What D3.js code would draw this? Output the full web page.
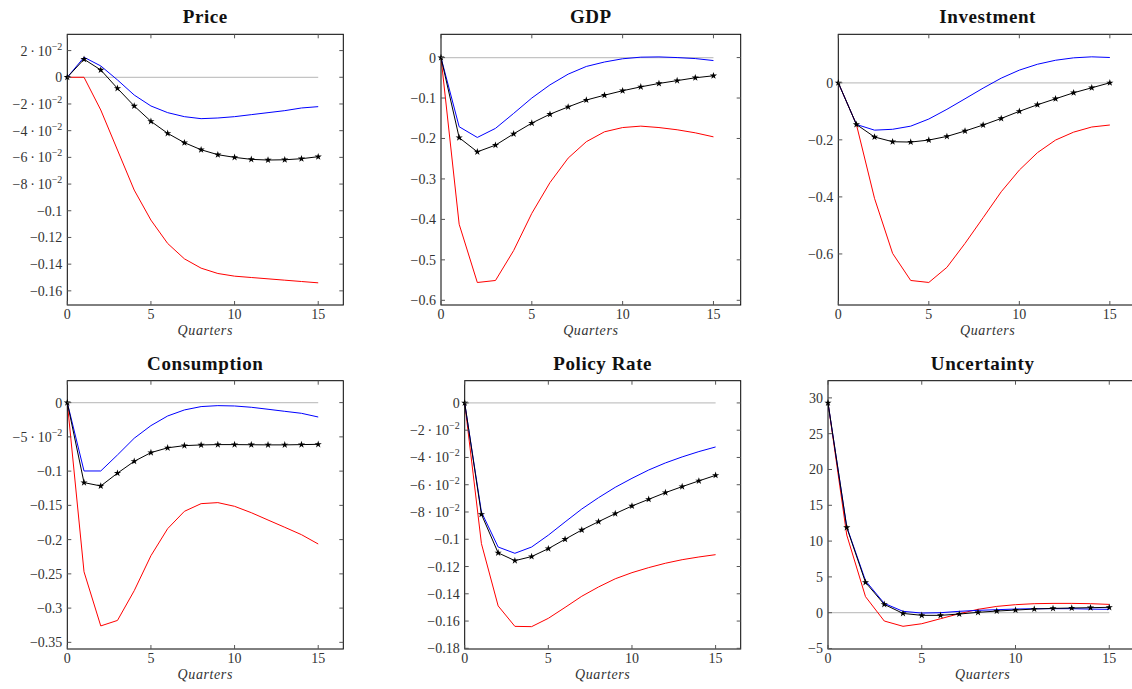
<!DOCTYPE html>
<html>
<head>
<meta charset="utf-8">
<script src="https://cdn.jsdelivr.net/npm/d3@7"></script>
<style>
  body { margin: 0; background: #fff; }
  svg { display: block; }
</style>
</head>
<body>
<svg id="chart" width="1132" height="689"></svg>
<script>
// quarters after the shock
const quarters = [0, 1, 2, 3, 4, 5, 6, 7, 8, 9, 10, 11, 12, 13, 14, 15];

// Price
const priceLow  = [0, 0, -0.0245, -0.0545, -0.0845, -0.107, -0.1245, -0.136, -0.143, -0.147, -0.149, -0.150, -0.151, -0.152, -0.153, -0.154];
const priceHigh = [0, 0.015, 0.0085, -0.002, -0.0133, -0.0215, -0.0265, -0.0295, -0.031, -0.0305, -0.0295, -0.028, -0.0265, -0.025, -0.023, -0.022];
const priceMed  = [0, 0.0135, 0.0055, -0.0083, -0.0215, -0.033, -0.042, -0.049, -0.0543, -0.058, -0.060, -0.0615, -0.062, -0.0618, -0.061, -0.0595];

// GDP
const gdpLow  = [0, -0.412, -0.556, -0.551, -0.477, -0.385, -0.309, -0.2485, -0.208, -0.1835, -0.173, -0.1695, -0.173, -0.1785, -0.186, -0.196];
const gdpHigh = [0, -0.171, -0.1975, -0.175, -0.138, -0.100, -0.0675, -0.041, -0.022, -0.011, -0.003, 0.001, 0.0016, 0, -0.0025, -0.0074];
const gdpMed  = [0, -0.198, -0.233, -0.2165, -0.1885, -0.162, -0.140, -0.122, -0.105, -0.093, -0.082, -0.0724, -0.064, -0.057, -0.050, -0.045];

// Investment
const invLow  = [0, -0.146, -0.405, -0.598, -0.693, -0.700, -0.647, -0.563, -0.473, -0.382, -0.306, -0.245, -0.2008, -0.173, -0.155, -0.148];
const invHigh = [0, -0.146, -0.166, -0.163, -0.152, -0.127, -0.093, -0.056, -0.0187, 0.0163, 0.0444, 0.065, 0.079, 0.0875, 0.091, 0.0887];
const invMed  = [0, -0.146, -0.19, -0.2066, -0.2078, -0.2008, -0.188, -0.169, -0.148, -0.125, -0.100, -0.077, -0.056, -0.035, -0.0175, 0];

// Consumption
const consLow  = [0, -0.247, -0.326, -0.318, -0.2746, -0.2235, -0.184, -0.1587, -0.1475, -0.146, -0.1514, -0.1607, -0.1714, -0.182, -0.1928, -0.2064];
const consHigh = [0, -0.0998, -0.0998, -0.0764, -0.052, -0.0336, -0.0195, -0.0107, -0.0058, -0.0044, -0.0049, -0.0068, -0.0097, -0.0127, -0.0156, -0.021];
const consMed  = [0, -0.1168, -0.1217, -0.103, -0.0857, -0.073, -0.066, -0.0628, -0.0618, -0.0613, -0.0613, -0.0615, -0.0617, -0.0617, -0.0613, -0.0609];

// Policy rate
const rateLow  = [0, -0.1032, -0.1489, -0.1639, -0.1641, -0.158, -0.150, -0.1418, -0.135, -0.129, -0.1245, -0.1208, -0.1176, -0.115, -0.113, -0.1113];
const rateHigh = [0, -0.080, -0.1057, -0.1103, -0.1057, -0.097, -0.0873, -0.0778, -0.0695, -0.0619, -0.0553, -0.0492, -0.044, -0.0396, -0.0357, -0.0323];
const rateMed  = [0, -0.0817, -0.110, -0.1157, -0.1127, -0.1069, -0.100, -0.0932, -0.0871, -0.0812, -0.0756, -0.0707, -0.0658, -0.0614, -0.0572, -0.0531];

// Uncertainty
const uncLow  = [29.3, 10.85, 2.24, -1.16, -1.9, -1.54, -0.84, -0.14, 0.47, 0.88, 1.12, 1.26, 1.3, 1.3, 1.26, 1.16];
const uncHigh = [29.3, 12.0, 4.47, 1.3, 0.19, -0.05, 0, 0.19, 0.33, 0.42, 0.51, 0.56, 0.56, 0.56, 0.5, 0.47];
const uncMed  = [29.3, 11.9, 4.24, 1.16, -0.1, -0.37, -0.37, -0.19, 0.05, 0.23, 0.37, 0.51, 0.6, 0.65, 0.7, 0.75];

// tick values
const xTicks = [0, 5, 10, 15];
const priceTicks = [0.02, 0, -0.02, -0.04, -0.06, -0.08, -0.1, -0.12, -0.14, -0.16];
const gdpTicks = [0, -0.1, -0.2, -0.3, -0.4, -0.5, -0.6];
const invTicks = [0, -0.2, -0.4, -0.6];
const consTicks = [0, -0.05, -0.1, -0.15, -0.2, -0.25, -0.3, -0.35];
const rateTicks = [0, -0.02, -0.04, -0.06, -0.08, -0.1, -0.12, -0.14, -0.16, -0.18];
const uncTicks = [-5, 0, 5, 10, 15, 20, 25, 30];

// panel boxes (plot area) and y ranges
const panels = [
    { title: "Price", low: priceLow, high: priceHigh, med: priceMed, ticks: priceTicks,
      box: [67.3, 34.3, 343.3, 305], yDom: [-0.1706, 0.0322] },
    { title: "GDP", low: gdpLow, high: gdpHigh, med: gdpMed, ticks: gdpTicks,
      box: [441, 34.3, 740.7, 305], yDom: [-0.6116, 0.0575] },
    { title: "Investment", low: invLow, high: invHigh, med: invMed, ticks: invTicks,
      box: [838.3, 34.3, 1137, 305], yDom: [-0.779, 0.170] },
    { title: "Consumption", low: consLow, high: consHigh, med: consMed, ticks: consTicks,
      box: [67.3, 380.7, 343.3, 649], yDom: [-0.3597, 0.032] },
    { title: "Policy Rate", low: rateLow, high: rateHigh, med: rateMed, ticks: rateTicks,
      box: [464.7, 380.7, 740.7, 649], yDom: [-0.1805, 0.0163] },
    { title: "Uncertainty", low: uncLow, high: uncHigh, med: uncMed, ticks: uncTicks,
      box: [828, 380.7, 1137.4, 649], yDom: [-5.07, 32.4] }
];

const svg = d3.select("#chart");
const serif = "'Liberation Serif', 'DejaVu Serif', serif";
const tickLen = 4;

// pgfplots-like labels: 2 · 10^-2 for small values
function writeLabel(text, v) {
    const minus = s => s.replace("-", "\u2212");
    if (v === 0) { text.text("0"); return; }
    if (Math.abs(v) < 0.1) {
        const exp = Math.floor(Math.log10(Math.abs(v)) + 1e-9);
        const mant = Math.round(v / Math.pow(10, exp));
        text.append("tspan").text(minus(`${mant}`) + "\u2009\u00b7\u200910");
        text.append("tspan").attr("dy", -6).attr("font-size", "10px").text(minus(`${exp}`));
        return;
    }
    text.text(minus(`${v}`));
}

panels.forEach(p => {
    const [x0, y0, x1, y1] = p.box;
    const x = d3.scaleLinear().domain([0, 16.5]).range([x0, x1]);
    const y = d3.scaleLinear().domain(p.yDom).range([y1, y0]);
    const g = svg.append("g");

    // zero line
    g.append("line")
        .attr("x1", x(0)).attr("x2", x(15))
        .attr("y1", y(0)).attr("y2", y(0))
        .attr("stroke", "#c4c4c4").attr("stroke-width", 1.2);

    const line = d3.line().x((d, i) => x(quarters[i])).y(d => y(d));

    g.append("path").datum(p.low).attr("d", line)
        .attr("fill", "none").attr("stroke", "#ff0000").attr("stroke-width", 1);
    g.append("path").datum(p.high).attr("d", line)
        .attr("fill", "none").attr("stroke", "#0000ff").attr("stroke-width", 1);
    g.append("path").datum(p.med).attr("d", line)
        .attr("fill", "none").attr("stroke", "#000").attr("stroke-width", 1);

    g.selectAll(".star").data(p.med).enter()
        .append("path")
        .attr("d", d3.symbol().type(d3.symbolStar).size(16))
        .attr("transform", (d, i) => `translate(${x(quarters[i])},${y(d)})`)
        .attr("fill", "#000");

    // frame
    g.append("rect")
        .attr("x", x0).attr("y", y0)
        .attr("width", x1 - x0).attr("height", y1 - y0)
        .attr("fill", "none").attr("stroke", "#000").attr("stroke-width", 1);

    // ticks inside on all sides
    xTicks.forEach(t => {
        g.append("line").attr("x1", x(t)).attr("x2", x(t))
            .attr("y1", y1).attr("y2", y1 - tickLen).attr("stroke", "#555");
        g.append("line").attr("x1", x(t)).attr("x2", x(t))
            .attr("y1", y0).attr("y2", y0 + tickLen).attr("stroke", "#555");
        g.append("text").attr("x", x(t)).attr("y", y1 + 14)
            .attr("text-anchor", "middle").attr("font-family", serif)
            .attr("font-size", "14px").attr("fill", "#333").text(t);
    });
    p.ticks.forEach(t => {
        g.append("line").attr("x1", x0).attr("x2", x0 + tickLen)
            .attr("y1", y(t)).attr("y2", y(t)).attr("stroke", "#555");
        g.append("line").attr("x1", x1).attr("x2", x1 - tickLen)
            .attr("y1", y(t)).attr("y2", y(t)).attr("stroke", "#555");
        const lab = g.append("text").attr("x", x0 - 5).attr("y", y(t) + 5)
            .attr("text-anchor", "end").attr("font-family", serif)
            .attr("font-size", "14px").attr("fill", "#333");
        writeLabel(lab, t);
    });

    // title and x label
    g.append("text").attr("x", (x0 + x1) / 2).attr("y", y0 - 11)
        .attr("text-anchor", "middle").attr("font-family", serif)
        .attr("font-weight", "bold").attr("font-size", "19px")
        .attr("letter-spacing", "0.6px").attr("fill", "#111").text(p.title);
    g.append("text").attr("x", (x0 + x1) / 2).attr("y", y1 + 30)
        .attr("text-anchor", "middle").attr("font-family", serif)
        .attr("font-style", "italic").attr("font-size", "14px")
        .attr("letter-spacing", "0.6px").attr("fill", "#333").text("Quarters");
});
</script>
</body>
</html>
